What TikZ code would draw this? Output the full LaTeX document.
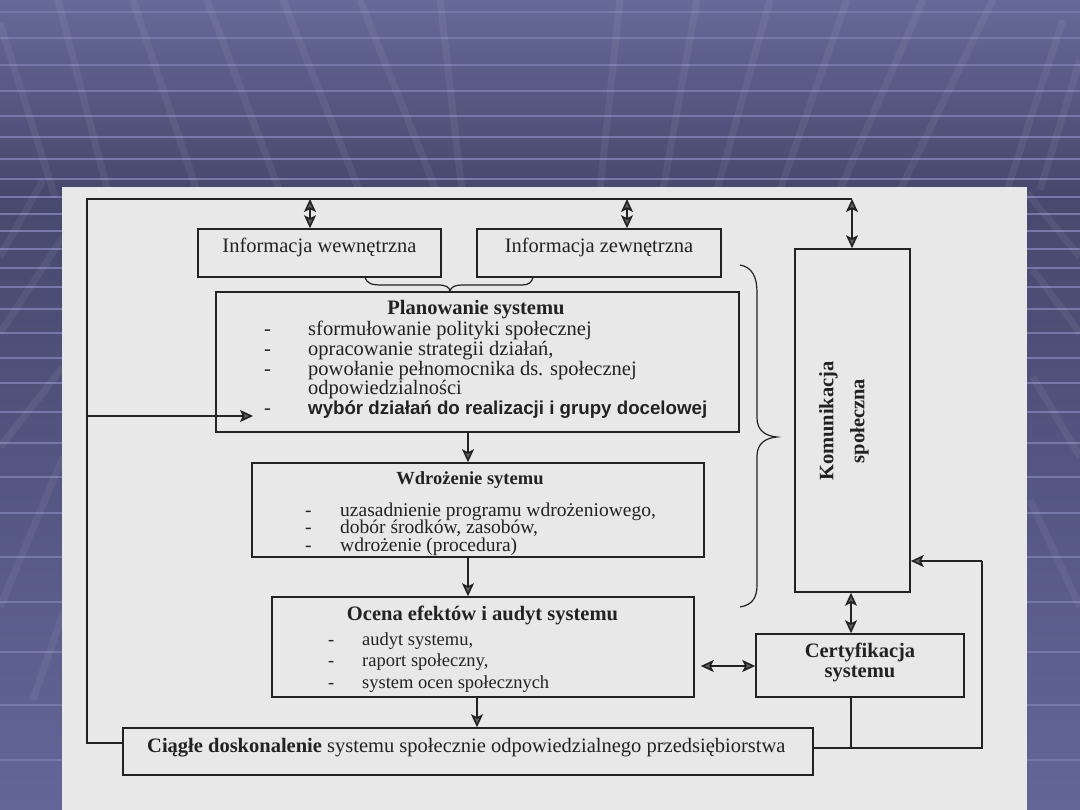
\documentclass[tikz,border=0pt]{standalone}
\usepackage{fontspec}
\setmainfont{Liberation Serif}
\newfontfamily\arialfont{Liberation Sans}
\usetikzlibrary{arrows.meta}
\definecolor{ink}{RGB}{34,34,34}
\definecolor{paper}{RGB}{232,232,232}
\definecolor{bgtop}{RGB}{103,105,152}
\definecolor{bgmid}{RGB}{71,72,110}
\definecolor{bgbot}{RGB}{100,102,152}
\definecolor{gridline}{RGB}{118,120,168}
\tikzset{
  box/.style={draw=ink, line width=1.6pt, inner sep=0pt},
  conn/.style={draw=ink, line width=1.6pt},
  tipa/.tip={Stealth[length=13pt,width=12pt,inset=3pt,fill=black!62]},
  arr/.style={conn, -tipa},
  dbl/.style={conn, tipa-tipa},
  bracestyle/.style={draw=ink, line width=1.2pt},
  txt/.style={inner sep=0pt, text=ink, font=\fontsize{20.5}{20}\selectfont},
  smalltxt/.style={inner sep=0pt, text=ink, font=\fontsize{18.5}{20}\selectfont},
  midtxt/.style={inner sep=0pt, text=ink, font=\fontsize{19.5}{20}\selectfont},
}
\begin{document}
\begin{tikzpicture}[x=1pt,y=-1pt]
\useasboundingbox (0,0) rectangle (1080,810);
% ---------- slide background ----------
\fill[top color=bgtop,bottom color=bgmid] (0,0) rectangle (1080,190);
\fill[top color=bgmid,bottom color=bgbot] (0,190) rectangle (1080,810);
\foreach \yy in {12,38,65,91,116,137,159,179,197,214,231,249,268,287,309,333,358,383,412,443,477,513,557,602,652,705,760}
  \draw[gridline, line width=2pt] (0,\yy) -- (1080,\yy);
\begin{scope}[line width=7pt, draw=white, draw opacity=0.06]
  \foreach \xa/\ya/\xb/\yb in {58/0/110/200, 133/0/200/200, 207/0/283/200, 283/0/363/200, 360/0/440/200, 440/0/463/200,
     620/0/600/190, 697/0/663/190, 770/0/717/190, 847/0/780/190, 923/0/840/190, 993/0/900/190, 1063/20/1007/190, 1080/60/1040/190,
     0/23/55/197, 43/180/0/257, 63/237/0/333, 63/367/0/447, 63/457/0/607, 63/613/33/700,
     1027/193/1080/257, 1033/270/1080/333, 1033/377/1080/457, 1030/500/1080/607}
    \draw (\xa,\ya) -- (\xb,\yb);
\end{scope}
% ---------- paper ----------
\fill[paper] (62,187) rectangle (1027,810);
% ---------- boxes ----------
\node[box, minimum width=243pt, minimum height=48pt] (iw) at (319.5,253) {};
\node[box, minimum width=244pt, minimum height=48pt] (iz) at (599,253) {};
\node[box, minimum width=523pt, minimum height=140pt] (plan) at (477.5,362) {};
\node[box, minimum width=452pt, minimum height=94pt] (wdr) at (478,510) {};
\node[box, minimum width=422pt, minimum height=100pt] (oce) at (483,647) {};
\node[box, minimum width=690pt, minimum height=47pt] (cia) at (468,751.5) {};
\node[box, minimum width=115pt, minimum height=343pt] (kom) at (852.5,420.5) {};
\node[box, minimum width=208pt, minimum height=63pt] (cert) at (860,665.5) {};
% ---------- texts ----------
\node[txt, anchor=base] (iwt) at (319.5,253) {Informacja wewnętrzna};
\node[txt, anchor=base] (izt) at (599,253) {Informacja zewnętrzna};
\node[txt, anchor=base, font=\bfseries\fontsize{20.5}{20}\selectfont] (plant) at (476,315) {Planowanie systemu};
\node[txt, anchor=base west] (pd1) at (264,336) {-};
\node[txt, anchor=base west] (pl1) at (308,336) {sformułowanie polityki społecznej};
\node[txt, anchor=base west] (pd2) at (264,356) {-};
\node[txt, anchor=base west] (pl2) at (308,356) {opracowanie strategii działań,};
\node[txt, anchor=base west] (pd3) at (264,375.5) {-};
\node[txt, anchor=base west] (pl3) at (308,375.5) {powołanie pełnomocnika ds. społecznej};
\node[txt, anchor=base west] (pl4) at (308,395) {odpowiedzialności};
\node[txt, anchor=base west] (pd5) at (264,415) {-};
\node[txt, anchor=base west, font=\arialfont\bfseries\fontsize{18.7}{20}\selectfont] (pl5) at (308,415) {wybór działań do realizacji i grupy docelowej};
\node[txt, anchor=base, font=\bfseries\fontsize{18.5}{20}\selectfont] (wdrt) at (470,485) {Wdrożenie sytemu};
\node[midtxt, anchor=base west] (wd1) at (305,516) {-};
\node[midtxt, anchor=base west] (wl1) at (340,516) {uzasadnienie programu wdrożeniowego,};
\node[midtxt, anchor=base west] (wd2) at (305,533.5) {-};
\node[midtxt, anchor=base west] (wl2) at (340,533.5) {dobór środków, zasobów,};
\node[midtxt, anchor=base west] (wd3) at (305,551) {-};
\node[midtxt, anchor=base west] (wl3) at (340,551) {wdrożenie (procedura)};
\node[txt, anchor=base, font=\bfseries\fontsize{20.5}{20}\selectfont] (ocet) at (482.5,620) {Ocena efektów i audyt systemu};
\node[smalltxt, anchor=base west] (od1) at (328,645) {-};
\node[smalltxt, anchor=base west] (ol1) at (362,645) {audyt systemu,};
\node[smalltxt, anchor=base west] (od2) at (328,666) {-};
\node[smalltxt, anchor=base west] (ol2) at (362,666) {raport społeczny,};
\node[smalltxt, anchor=base west] (od3) at (328,688) {-};
\node[smalltxt, anchor=base west] (ol3) at (362,688) {system ocen społecznych};
\node[txt, anchor=base west] (ciat) at (147,752) {\textbf{Ciągłe doskonalenie} systemu społecznie odpowiedzialnego przedsiębiorstwa};
\node[txt, anchor=base, font=\bfseries\fontsize{20.5}{20}\selectfont] (cert1) at (860,657) {Certyfikacja};
\node[txt, anchor=base, font=\bfseries\fontsize{20.5}{20}\selectfont] (cert2) at (860,677) {systemu};
\node[txt, rotate=90, align=center, font=\bfseries\fontsize{20.5}{31}\selectfont] (komt) at (844,421) {Komunikacja\\społeczna};
% ---------- helper coordinates ----------
\coordinate (lt) at (87,199);
\coordinate (lb) at (87,743);
\coordinate (rt) at (852,199);
\coordinate (a1) at (310,199);
\coordinate (a2) at (627,199);
\coordinate (lin) at (87,416);
\coordinate (pin) at (253,416);
\coordinate (cx) at (468,0);
\coordinate (cx2) at (477,0);
\coordinate (kc) at (851,0);
\coordinate (rb) at (982,748);
\coordinate (rk) at (982,561);
\coordinate (hc) at (0,666);
% ---------- connectors ----------
\draw[conn] (cia.west |- lb) -- (lb) -- (lt) -- (rt);
\draw[dbl] (a1) -- (a1 |- iw.north);
\draw[dbl] (a2) -- (a2 |- iz.north);
\draw[dbl] (rt) -- (rt |- kom.north);
\draw[arr] (lin) -- (pin);
\draw[arr] (cx |- plan.south) -- (cx |- wdr.north);
\draw[arr] (cx |- wdr.south) -- (cx |- oce.north);
\draw[arr] (cx2 |- oce.south) -- (cx2 |- cia.north);
\draw[dbl] (kc |- kom.south) -- (kc |- cert.north);
\draw[dbl, shorten <=6pt] (oce.east |- hc) -- (cert.west |- hc);
\draw[conn] (cia.east |- rb) -- (rb) -- (rk);
\draw[arr] (rk) -- (kom.east |- rk);
\draw[conn] (kc |- cert.south) -- (kc |- rb);
% ---------- braces ----------
\draw[bracestyle] (365,277) .. controls (367,284) and (372,285) .. (382,285) -- (438,285)
  .. controls (446,285) and (449,287) .. (450,291) .. controls (451,287) and (455,285) .. (462,285)
  -- (522,285) .. controls (529,285) and (532,282) .. (533,277);
\draw[bracestyle] (740,265) .. controls (752,267) and (757,277) .. (757,292) -- (757,418)
  .. controls (757,430) and (765,436) .. (777,437) .. controls (765,438) and (757,444) .. (757,456)
  -- (757,585) .. controls (757,598) and (752,605) .. (740,607);
\end{tikzpicture}
\end{document}
